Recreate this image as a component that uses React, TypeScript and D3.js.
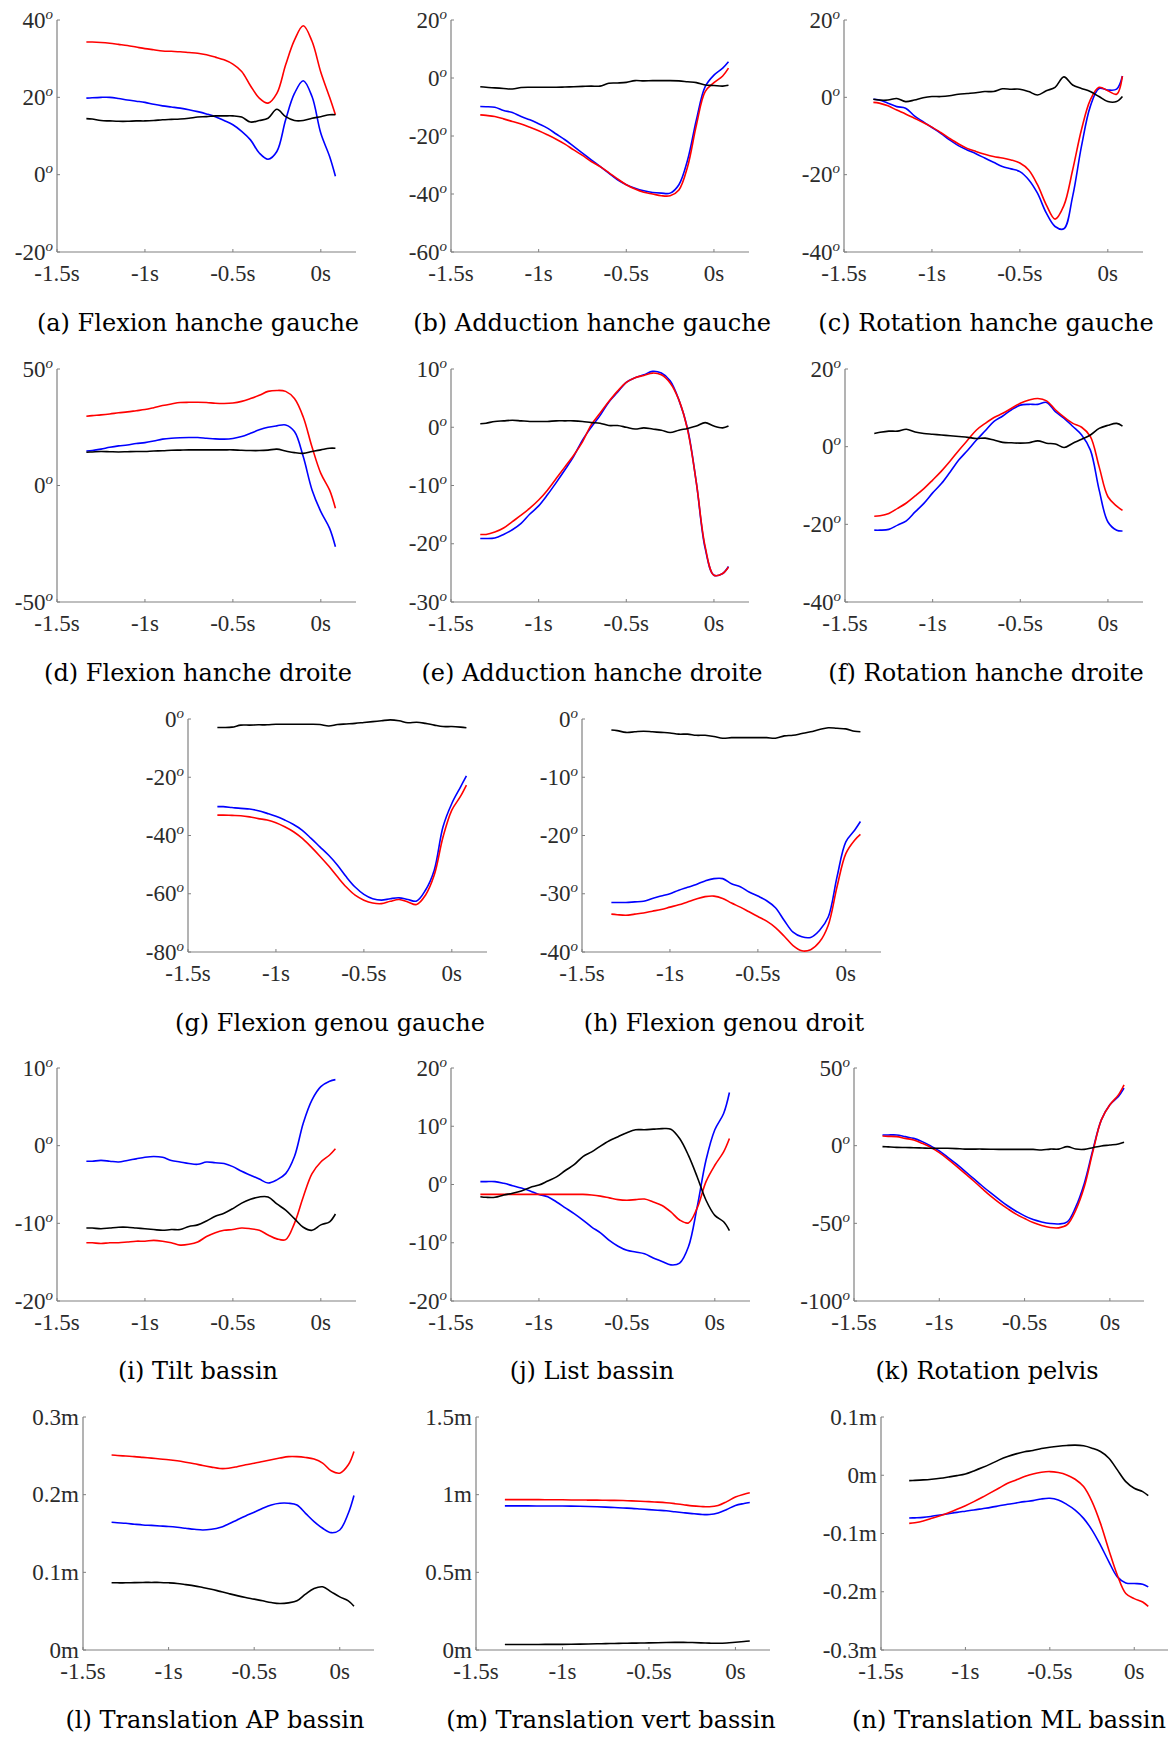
import React from 'react';
import * as d3 from 'd3';

// shared time grid (s)
const times = [-1.333, -1.3, -1.25, -1.2, -1.15, -1.1, -1.05, -1.0, -0.95, -0.9, -0.85, -0.8, -0.75, -0.7, -0.65, -0.6, -0.55, -0.5, -0.45, -0.4, -0.35, -0.3, -0.25, -0.2, -0.15, -0.1, -0.05, 0, 0.05, 0.083];

const xTickValues = [-1.5, -1, -0.5, 0];
const xTickLabels = ['-1.5s', '-1s', '-0.5s', '0s'];

// (a) Flexion hanche gauche
const aRed = [34.3, 34.3, 34.2, 34.0, 33.7, 33.4, 33.0, 32.6, 32.3, 32.0, 31.9, 31.8, 31.6, 31.4, 31.0, 30.4, 29.7, 28.6, 26.7, 23.0, 19.8, 18.5, 21.0, 28.4, 34.8, 38.5, 34.5, 26.5, 20.0, 15.5];
const aBlue = [19.8, 19.9, 20.0, 20.0, 19.7, 19.3, 19.0, 18.7, 18.2, 17.8, 17.5, 17.2, 16.8, 16.3, 15.7, 15.0, 14.0, 12.9, 11.2, 9.0, 5.6, 4.0, 6.0, 14.2, 21.0, 24.3, 20.2, 10.7, 4.7, -0.4];
const aBlack = [14.5, 14.4, 14.0, 13.9, 13.8, 13.8, 13.9, 13.9, 14.0, 14.2, 14.3, 14.4, 14.6, 14.9, 15.0, 15.2, 15.2, 15.2, 14.9, 13.6, 14.0, 14.6, 16.9, 15.0, 14.0, 14.0, 14.6, 15.0, 15.5, 15.5];
const aTicks = [-20, 0, 20, 40];

// (b) Adduction hanche gauche
const bRed = [-12.7, -12.9, -13.3, -14.1, -15.0, -15.9, -17.0, -18.2, -19.6, -21.1, -22.8, -24.8, -26.7, -28.8, -30.5, -32.6, -34.8, -36.8, -38.3, -39.4, -40.0, -40.6, -40.6, -38.6, -30.5, -16.2, -4.7, -1.6, 0.7, 3.4];
const bBlue = [-9.85, -9.9, -10.1, -11.2, -11.9, -13.3, -14.4, -15.8, -17.3, -19.3, -21.3, -23.6, -25.9, -28.2, -30.5, -32.8, -35.1, -36.8, -38.0, -38.9, -39.5, -39.7, -39.7, -36.8, -28.2, -14.4, -3.0, 1.0, 3.4, 5.6];
const bBlack = [-3.0, -3.2, -3.4, -3.6, -3.8, -3.3, -3.2, -3.2, -3.2, -3.2, -3.1, -3.0, -2.9, -2.8, -2.8, -1.8, -1.7, -1.5, -0.9, -1.0, -0.9, -0.9, -0.9, -1.0, -1.3, -1.6, -2.4, -2.6, -2.8, -2.5];
const bTicks = [-60, -40, -20, 0, 20];

// (c) Rotation hanche gauche
const cRed = [-1.3, -1.5, -2.2, -3.3, -4.3, -5.4, -6.5, -7.7, -9.1, -10.6, -12.0, -13.2, -14.0, -14.7, -15.3, -15.7, -16.2, -17.0, -18.8, -22.6, -27.8, -31.5, -28.0, -18.8, -8.4, -0.7, 2.6, 1.7, 0.8, 5.5];
const cBlue = [-0.5, -0.7, -1.5, -2.4, -2.8, -4.8, -6.3, -7.8, -9.3, -11.0, -12.5, -13.6, -14.6, -15.7, -16.8, -17.9, -18.5, -19.2, -21.3, -24.8, -29.9, -33.4, -34.0, -25.6, -12.7, -2.4, 2.3, 1.9, 2.1, 5.5];
const cBlack = [-0.5, -0.7, -0.7, -0.3, -1.1, -0.7, -0.1, 0.2, 0.2, 0.4, 0.8, 1.0, 1.2, 1.5, 1.5, 2.2, 2.1, 2.1, 1.5, 0.6, 1.7, 2.6, 5.3, 3.2, 2.3, 1.5, 0.2, -1.1, -1.1, 0.2];
const cTicks = [-40, -20, 0, 20];

// (d) Flexion hanche droite
const dRed = [29.7, 30.0, 30.3, 30.7, 31.2, 31.6, 32.1, 32.6, 33.4, 34.3, 35.0, 35.6, 35.7, 35.7, 35.6, 35.3, 35.2, 35.4, 36.1, 37.3, 38.7, 40.4, 40.8, 40.4, 37.3, 29.4, 16.5, 5.2, -2.0, -9.8];
const dBlue = [14.8, 15.0, 15.6, 16.4, 17.0, 17.4, 18.0, 18.4, 19.1, 19.9, 20.3, 20.5, 20.6, 20.6, 20.3, 20.0, 19.9, 20.2, 21.0, 22.4, 23.9, 25.0, 25.6, 26.0, 23.2, 12.4, -1.9, -11.2, -18.4, -26.3];
const dBlack = [14.3, 14.4, 14.6, 14.5, 14.4, 14.5, 14.6, 14.6, 14.8, 14.9, 15.1, 15.2, 15.3, 15.3, 15.3, 15.3, 15.3, 15.3, 15.1, 15.0, 15.0, 15.2, 15.6, 14.8, 14.1, 13.8, 14.6, 15.3, 16.0, 16.0];
const dTicks = [-50, 0, 50];

// (e) Adduction hanche droite
const eRed = [-18.4, -18.4, -18.0, -17.3, -16.2, -15.1, -13.9, -12.5, -10.8, -8.8, -6.8, -4.8, -2.5, 0.4, 2.4, 4.4, 6.2, 7.7, 8.5, 8.9, 9.3, 9.0, 7.6, 4.7, -0.5, -9.6, -20.5, -25.4, -25.1, -24.0];
const eBlue = [-19.1, -19.1, -19.0, -18.4, -17.6, -16.5, -14.9, -13.5, -11.6, -9.5, -7.3, -5.0, -2.2, 0.0, 2.0, 4.3, 6.0, 7.7, 8.5, 9.0, 9.6, 9.3, 8.0, 4.7, -0.3, -9.6, -20.8, -25.4, -25.1, -23.9];
const eBlack = [0.6, 0.7, 1.0, 1.1, 1.2, 1.1, 1.0, 1.0, 1.0, 1.1, 1.1, 1.1, 1.0, 0.8, 0.7, 0.3, 0.3, 0.0, -0.3, -0.1, -0.3, -0.5, -0.9, -0.5, -0.2, 0.2, 0.8, 0.2, -0.1, 0.2];
const eTicks = [-30, -20, -10, 0, 10];

// (f) Rotation hanche droite
const fRed = [-17.9, -17.8, -17.2, -15.9, -14.5, -12.7, -10.8, -8.6, -6.3, -3.7, -0.9, 1.7, 4.3, 6.0, 7.5, 8.6, 9.9, 11.2, 12.0, 12.4, 11.8, 9.5, 7.6, 6.0, 5.0, 2.6, -5.2, -12.9, -15.3, -16.4];
const fBlue = [-21.5, -21.5, -21.3, -20.2, -19.1, -16.8, -14.6, -11.9, -9.5, -6.5, -3.4, -0.9, 1.7, 4.1, 6.5, 7.9, 9.5, 10.7, 10.9, 10.9, 11.4, 9.0, 7.3, 5.2, 3.0, -0.9, -11.2, -19.4, -21.5, -21.7];
const fBlack = [3.4, 3.7, 4.0, 4.0, 4.5, 3.8, 3.4, 3.2, 3.0, 2.8, 2.6, 2.4, 2.1, 2.2, 1.7, 1.1, 1.0, 0.9, 1.0, 1.5, 0.9, 0.7, -0.2, 0.9, 1.9, 3.0, 4.7, 5.5, 6.0, 5.3];
const fTicks = [-40, -20, 0, 20];

// (g) Flexion genou gauche
const gRed = [-33.0, -33.0, -33.1, -33.2, -33.6, -34.2, -34.7, -35.6, -37.0, -38.7, -41.0, -43.9, -47.1, -50.5, -54.2, -57.7, -60.5, -62.2, -63.2, -63.4, -62.6, -62.0, -62.8, -63.7, -60.5, -53.6, -40.5, -31.3, -26.5, -22.7];
const gBlue = [-30.1, -30.1, -30.4, -30.7, -30.9, -31.5, -32.4, -33.4, -34.7, -36.2, -38.2, -41.0, -43.9, -46.8, -50.2, -54.2, -57.7, -60.2, -61.7, -62.2, -61.7, -61.4, -62.0, -62.5, -58.8, -51.9, -37.0, -29.0, -23.3, -19.5];
const gBlack = [-2.9, -2.9, -2.8, -2.1, -2.1, -2.0, -2.0, -1.8, -1.8, -1.8, -1.8, -1.8, -1.9, -2.4, -1.9, -1.7, -1.5, -1.2, -0.9, -0.6, -0.3, -0.6, -1.3, -1.1, -1.5, -2.1, -2.6, -2.6, -2.8, -3.0];
const gTicks = [-80, -60, -40, -20, 0];

// (h) Flexion genou droit
const hRed = [-33.5, -33.6, -33.7, -33.5, -33.3, -33.0, -32.7, -32.3, -31.9, -31.4, -30.9, -30.5, -30.4, -30.8, -31.6, -32.3, -33.1, -33.9, -34.7, -35.8, -37.3, -38.9, -39.8, -39.6, -38.3, -35.4, -28.8, -23.1, -20.8, -19.8];
const hBlue = [-31.5, -31.5, -31.5, -31.4, -31.3, -30.8, -30.4, -30.0, -29.4, -28.9, -28.4, -27.8, -27.4, -27.4, -28.3, -28.8, -29.7, -30.4, -31.2, -32.4, -34.6, -36.6, -37.4, -37.5, -36.3, -34.0, -27.1, -21.1, -19.1, -17.6];
const hBlack = [-1.9, -2.0, -2.3, -2.2, -2.1, -2.2, -2.3, -2.4, -2.6, -2.6, -2.8, -2.8, -3.0, -3.3, -3.2, -3.2, -3.2, -3.2, -3.2, -3.3, -2.9, -2.8, -2.5, -2.2, -1.8, -1.5, -1.6, -1.7, -2.1, -2.2];
const hTicks = [-40, -30, -20, -10, 0];

// (i) Tilt bassin
const iRed = [-12.5, -12.5, -12.6, -12.5, -12.5, -12.4, -12.3, -12.3, -12.2, -12.3, -12.5, -12.8, -12.7, -12.4, -11.7, -11.2, -10.9, -10.8, -10.6, -10.7, -10.9, -11.5, -12.0, -12.1, -10.0, -6.6, -3.6, -2.1, -1.2, -0.4];
const iBlue = [-2.0, -2.0, -1.9, -2.0, -2.1, -1.9, -1.7, -1.5, -1.4, -1.5, -1.9, -2.1, -2.3, -2.4, -2.1, -2.2, -2.3, -2.7, -3.3, -3.8, -4.3, -4.8, -4.4, -3.6, -1.4, 2.9, 5.9, 7.6, 8.3, 8.5];
const iBlack = [-10.6, -10.6, -10.7, -10.6, -10.5, -10.5, -10.6, -10.7, -10.8, -10.9, -10.8, -10.8, -10.4, -10.2, -9.7, -9.1, -8.7, -8.1, -7.4, -6.9, -6.6, -6.6, -7.5, -8.3, -9.4, -10.5, -10.9, -10.2, -9.8, -8.8];
const iTicks = [-20, -10, 0, 10];

// (j) List bassin
const jRed = [-1.7, -1.7, -1.7, -1.7, -1.7, -1.7, -1.7, -1.7, -1.7, -1.7, -1.7, -1.7, -1.7, -1.8, -2.0, -2.3, -2.6, -2.7, -2.6, -2.5, -3.0, -3.6, -4.7, -6.1, -6.6, -4.0, 0.5, 3.3, 5.6, 7.9];
const jBlue = [0.5, 0.5, 0.5, 0.2, -0.2, -0.6, -1.1, -1.7, -2.1, -3.0, -4.0, -5.0, -6.1, -7.3, -8.3, -9.6, -10.6, -11.3, -11.6, -11.9, -12.6, -13.2, -13.8, -13.5, -10.7, -3.8, 4.2, 9.4, 12.2, 15.8];
const jBlack = [-2.1, -2.2, -2.2, -1.8, -1.5, -1.1, -0.5, -0.1, 0.6, 1.3, 2.4, 3.4, 4.8, 5.6, 6.6, 7.5, 8.2, 8.9, 9.4, 9.4, 9.5, 9.6, 9.5, 7.9, 5.0, 1.3, -2.7, -5.3, -6.4, -7.9];
const jTicks = [-20, -10, 0, 10, 20];

// (k) Rotation pelvis
const kRed = [6.2, 6.0, 5.8, 4.7, 3.7, 1.5, -1.1, -4.5, -8.6, -13.1, -17.9, -22.6, -27.5, -32.3, -36.6, -40.5, -44.1, -46.9, -49.5, -51.4, -52.7, -52.9, -50.8, -41.5, -26.5, -3.9, 16.6, 26.3, 32.7, 39.2];
const kBlue = [6.9, 6.9, 6.9, 5.8, 4.7, 2.6, -0.2, -3.4, -7.5, -11.8, -16.4, -21.1, -25.8, -30.3, -34.6, -38.7, -42.2, -45.2, -47.6, -49.1, -50.1, -50.4, -49.1, -39.4, -24.3, -2.8, 16.6, 26.3, 31.6, 37.0];
const kBlack = [-0.6, -0.8, -1.1, -1.2, -1.3, -1.5, -1.7, -1.7, -1.7, -1.9, -2.2, -2.2, -2.2, -2.3, -2.4, -2.4, -2.4, -2.4, -2.4, -2.8, -2.2, -2.2, -0.6, -2.2, -2.4, -1.3, -0.2, 0.4, 1.1, 2.2];
const kTicks = [-100, -50, 0, 50];

// (l) Translation AP bassin
const lRed = [0.251, 0.2505, 0.2497, 0.249, 0.248, 0.247, 0.246, 0.245, 0.2436, 0.2418, 0.2398, 0.2375, 0.2355, 0.2337, 0.234, 0.236, 0.2385, 0.2405, 0.2428, 0.245, 0.2471, 0.249, 0.249, 0.2479, 0.2458, 0.2406, 0.2307, 0.2277, 0.2385, 0.2557];
const lBlue = [0.1644, 0.1638, 0.1631, 0.162, 0.161, 0.1604, 0.1597, 0.159, 0.158, 0.1567, 0.1554, 0.1545, 0.1554, 0.1576, 0.1623, 0.1675, 0.1726, 0.1774, 0.1825, 0.1868, 0.189, 0.189, 0.1868, 0.176, 0.1653, 0.1567, 0.1511, 0.1545, 0.176, 0.1989];
const lBlack = [0.0865, 0.0865, 0.0865, 0.0868, 0.087, 0.087, 0.087, 0.0865, 0.0857, 0.0842, 0.0826, 0.0805, 0.0783, 0.0755, 0.0727, 0.07, 0.0676, 0.0655, 0.0633, 0.0611, 0.0598, 0.0607, 0.0633, 0.0719, 0.0792, 0.0814, 0.0749, 0.0684, 0.0633, 0.0564];
const lTicks = [0, 0.1, 0.2, 0.3];

// (m) Translation vert bassin
const mRed = [0.968, 0.968, 0.968, 0.968, 0.968, 0.967, 0.967, 0.967, 0.966, 0.966, 0.965, 0.965, 0.964, 0.963, 0.962, 0.96, 0.958, 0.955, 0.952, 0.948, 0.942, 0.935, 0.928, 0.924, 0.922, 0.93, 0.955, 0.985, 1.003, 1.012];
const mBlue = [0.928, 0.928, 0.928, 0.928, 0.927, 0.927, 0.927, 0.927, 0.926, 0.925, 0.924, 0.922, 0.92, 0.917, 0.914, 0.912, 0.908, 0.904, 0.9, 0.896, 0.89, 0.884, 0.878, 0.873, 0.872, 0.882, 0.905, 0.93, 0.943, 0.95];
const mBlack = [0.035, 0.035, 0.035, 0.035, 0.035, 0.036, 0.036, 0.036, 0.037, 0.038, 0.039, 0.04, 0.041, 0.042, 0.043, 0.044, 0.045, 0.046, 0.047, 0.048, 0.049, 0.049, 0.048, 0.046, 0.044, 0.043, 0.045, 0.05, 0.055, 0.058];
const mTicks = [0, 0.5, 1, 1.5];

// (n) Translation ML bassin
const nRed = [-0.0826, -0.0815, -0.0786, -0.074, -0.0694, -0.0643, -0.0585, -0.0522, -0.0453, -0.0379, -0.0298, -0.0218, -0.0138, -0.008, -0.0023, 0.0023, 0.0052, 0.0063, 0.0046, 0.0006, -0.0069, -0.0195, -0.0453, -0.0826, -0.1286, -0.1716, -0.203, -0.2118, -0.2175, -0.225];
const nBlue = [-0.0735, -0.0731, -0.0723, -0.0705, -0.0683, -0.066, -0.0637, -0.0617, -0.0597, -0.0574, -0.0551, -0.0525, -0.0499, -0.0476, -0.0453, -0.0436, -0.0407, -0.0396, -0.0425, -0.0499, -0.0597, -0.074, -0.0941, -0.1199, -0.1486, -0.1745, -0.1848, -0.1859, -0.1871, -0.1917];
const nBlack = [-0.0092, -0.0088, -0.008, -0.0068, -0.0052, -0.003, -0.0006, 0.0023, 0.0075, 0.0132, 0.0195, 0.0264, 0.0321, 0.0367, 0.0402, 0.0425, 0.0459, 0.0482, 0.0499, 0.0511, 0.0517, 0.0505, 0.0465, 0.0407, 0.0293, 0.0092, -0.0109, -0.0224, -0.0281, -0.035];
const nTicks = [-0.3, -0.2, -0.1, 0, 0.1];

const captions = [
  '(a) Flexion hanche gauche', '(b) Adduction hanche gauche', '(c) Rotation hanche gauche',
  '(d) Flexion hanche droite', '(e) Adduction hanche droite', '(f) Rotation hanche droite',
  '(g) Flexion genou gauche', '(h) Flexion genou droit',
  '(i) Tilt bassin', '(j) List bassin', '(k) Rotation pelvis',
  '(l) Translation AP bassin', '(m) Translation vert bassin', '(n) Translation ML bassin',
];

type PanelDef = {
  x0: number; x1: number; top: number; bottom: number; capX: number; capY: number;
  ticks: number[]; unit: 'deg' | 'm'; red: number[]; blue: number[]; black: number[]; caption: string;
};

const R1 = { top: 20, bottom: 252, capY: 331 };
const R2 = { top: 369, bottom: 602, capY: 681 };
const R3 = { top: 719, bottom: 952, capY: 1031 };
const R4 = { top: 1068, bottom: 1301, capY: 1379 };
const R5 = { top: 1417, bottom: 1650, capY: 1728 };

const panels: PanelDef[] = [
  { x0: 57, x1: 356, ...R1, capX: 198, ticks: aTicks, unit: 'deg', red: aRed, blue: aBlue, black: aBlack, caption: captions[0] },
  { x0: 451, x1: 749, ...R1, capX: 592, ticks: bTicks, unit: 'deg', red: bRed, blue: bBlue, black: bBlack, caption: captions[1] },
  { x0: 844, x1: 1143, ...R1, capX: 986, ticks: cTicks, unit: 'deg', red: cRed, blue: cBlue, black: cBlack, caption: captions[2] },
  { x0: 57, x1: 356, ...R2, capX: 198, ticks: dTicks, unit: 'deg', red: dRed, blue: dBlue, black: dBlack, caption: captions[3] },
  { x0: 451, x1: 749, ...R2, capX: 592, ticks: eTicks, unit: 'deg', red: eRed, blue: eBlue, black: eBlack, caption: captions[4] },
  { x0: 845, x1: 1143, ...R2, capX: 986, ticks: fTicks, unit: 'deg', red: fRed, blue: fBlue, black: fBlack, caption: captions[5] },
  { x0: 188, x1: 487, ...R3, capX: 330, ticks: gTicks, unit: 'deg', red: gRed, blue: gBlue, black: gBlack, caption: captions[6] },
  { x0: 582, x1: 881, ...R3, capX: 724, ticks: hTicks, unit: 'deg', red: hRed, blue: hBlue, black: hBlack, caption: captions[7] },
  { x0: 57, x1: 356, ...R4, capX: 198, ticks: iTicks, unit: 'deg', red: iRed, blue: iBlue, black: iBlack, caption: captions[8] },
  { x0: 451, x1: 750, ...R4, capX: 592, ticks: jTicks, unit: 'deg', red: jRed, blue: jBlue, black: jBlack, caption: captions[9] },
  { x0: 854, x1: 1144, ...R4, capX: 987, ticks: kTicks, unit: 'deg', red: kRed, blue: kBlue, black: kBlack, caption: captions[10] },
  { x0: 83, x1: 374, ...R5, capX: 215, ticks: lTicks, unit: 'm', red: lRed, blue: lBlue, black: lBlack, caption: captions[11] },
  { x0: 476, x1: 770, ...R5, capX: 611, ticks: mTicks, unit: 'm', red: mRed, blue: mBlue, black: mBlack, caption: captions[12] },
  { x0: 881, x1: 1168, ...R5, capX: 1009, ticks: nTicks, unit: 'm', red: nRed, blue: nBlue, black: nBlack, caption: captions[13] },
];

const CAP_FONT = "'DejaVu Serif', serif";
const TICK_FONT = "'Liberation Serif', 'DejaVu Serif', serif";
const AXIS = '#808080';
const TXT = '#2b2b2b';

function Panel({ p }: { p: PanelDef }) {
  const x = d3.scaleLinear().domain([-1.5, 0.2]).range([p.x0, p.x1]);
  const y = d3.scaleLinear().domain([p.ticks[0], p.ticks[p.ticks.length - 1]]).range([p.bottom, p.top]);
  const line = d3.line<number>()
    .x((_, i) => x(times[i]))
    .y((v) => y(v))
    .curve(d3.curveCatmullRom.alpha(0.5));
  return (
    <g>
      <line x1={p.x0} x2={p.x0} y1={p.top} y2={p.bottom} stroke={AXIS} strokeWidth={1.2} />
      <line x1={p.x0} x2={p.x1} y1={p.bottom} y2={p.bottom} stroke={AXIS} strokeWidth={1.2} />
      {p.ticks.map((t) => (
        <g key={'y' + t}>
          <line x1={p.x0} x2={p.x0 + 3} y1={y(t)} y2={y(t)} stroke={AXIS} strokeWidth={1} />
          <text x={p.x0 - 4} y={y(t) + 7.5} textAnchor="end" fontFamily={TICK_FONT} fontSize={23} fill={TXT}>
            {p.unit === 'deg' ? (
              <>
                {String(t)}
                <tspan fontSize={15} fontStyle="italic" dy={-9}>o</tspan>
              </>
            ) : (
              String(t) + 'm'
            )}
          </text>
        </g>
      ))}
      {xTickValues.map((t, i) => (
        <g key={'x' + t}>
          <line x1={x(t)} x2={x(t)} y1={p.bottom} y2={p.bottom - 3} stroke={AXIS} strokeWidth={1} />
          <text x={x(t)} y={p.bottom + 29} textAnchor="middle" fontFamily={TICK_FONT} fontSize={23} fill={TXT}>
            {xTickLabels[i]}
          </text>
        </g>
      ))}
      <path d={line(p.blue) || ''} fill="none" stroke="#0000ff" strokeWidth={1.6} />
      <path d={line(p.red) || ''} fill="none" stroke="#ff0000" strokeWidth={1.6} />
      <path d={line(p.black) || ''} fill="none" stroke="#000000" strokeWidth={1.6} />
      <text x={p.capX} y={p.capY} textAnchor="middle" fontFamily={CAP_FONT} fontSize={24} fill="#000">
        {p.caption}
      </text>
    </g>
  );
}

export default function App() {
  return (
    <svg
      width={1173}
      height={1738}
      viewBox="0 0 1173 1738"
      style={{ position: 'absolute', left: 0, top: 0, background: '#fff' }}
    >
      <rect width={1173} height={1738} fill="#fff" />
      {panels.map((p, i) => (
        <Panel key={i} p={p} />
      ))}
    </svg>
  );
}
